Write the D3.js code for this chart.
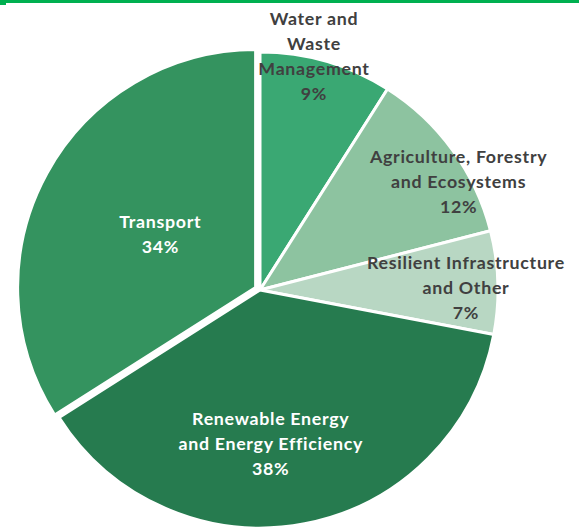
<!DOCTYPE html>
<html><head><meta charset="utf-8">
<script src="https://cdn.jsdelivr.net/npm/d3@7"></script>
<style>
html,body{margin:0;padding:0;background:#fff;}
svg{display:block;}
text{font-family:Lato,"Open Sans",sans-serif;font-weight:bold;}
</style></head>
<body>
<svg id="c" width="579" height="531"></svg>
<script>
const categories = ["Water and Waste Management","Agriculture, Forestry and Ecosystems","Resilient Infrastructure and Other","Renewable Energy and Energy Efficiency","Transport"];
const labelLines = [["Water and","Waste","Management"],["Agriculture, Forestry","and Ecosystems"],["Resilient Infrastructure","and Other"],["Renewable Energy","and Energy Efficiency"],["Transport"]];
const values = [9,12,7,38,34];
const colors = ["#3AA873","#8DC3A0","#B8D7C3","#267B4F","#34935F"];
const labelColors = ["#404040","#404040","#404040","#ffffff","#ffffff"];
// label placement (polar: radius, angle in degrees clockwise from top) relative to pie centre
const labelPolar = [[240,13],[226,61.5],[206,89.4],[154,176],[114,299]];
const explode = [0,0,0,0,5];

const svg = d3.select("#c");
const W=579,H=531, cx=260, cy=290, R=238;

// top border
svg.append("rect").attr("x",0).attr("y",0).attr("width",W).attr("height",3).attr("fill","#00B050");
svg.append("rect").attr("x",0).attr("y",0).attr("width",6).attr("height",5).attr("fill","#00B050");

const pie = d3.pie().value(d=>d).sort(null);
const arcs = pie(values);
const arc = d3.arc().innerRadius(0).outerRadius(R);
const g = svg.append("g").attr("transform",`translate(${cx},${cy})`);

g.selectAll("path").data(arcs).join("path")
  .attr("d",arc)
  .attr("fill",(d,i)=>colors[i])
  .attr("stroke","#fff").attr("stroke-width",3).attr("stroke-linejoin","round")
  .attr("transform",(d,i)=>{
     const m=(d.startAngle+d.endAngle)/2;
     return `translate(${Math.sin(m)*explode[i]},${-Math.cos(m)*explode[i]})`;
  });

const fs=17.8, lh=25;
arcs.forEach((d,i)=>{
  const [r,a]=labelPolar[i];
  const ang=a*Math.PI/180;
  const x=Math.sin(ang)*r, y=-Math.cos(ang)*r;
  const lines=labelLines[i].concat([values[i]+"%"]);
  const t=g.append("text").attr("text-anchor","middle").attr("fill",labelColors[i])
    .attr("font-size",fs).attr("letter-spacing","0.7px");
  const y0=y-(lines.length-1)*lh/2;
  lines.forEach((s,k)=>{
    t.append("tspan").attr("x",x).attr("y",y0+k*lh).attr("dy","0.35em").text(s);
  });
});
</script>
</body></html>
